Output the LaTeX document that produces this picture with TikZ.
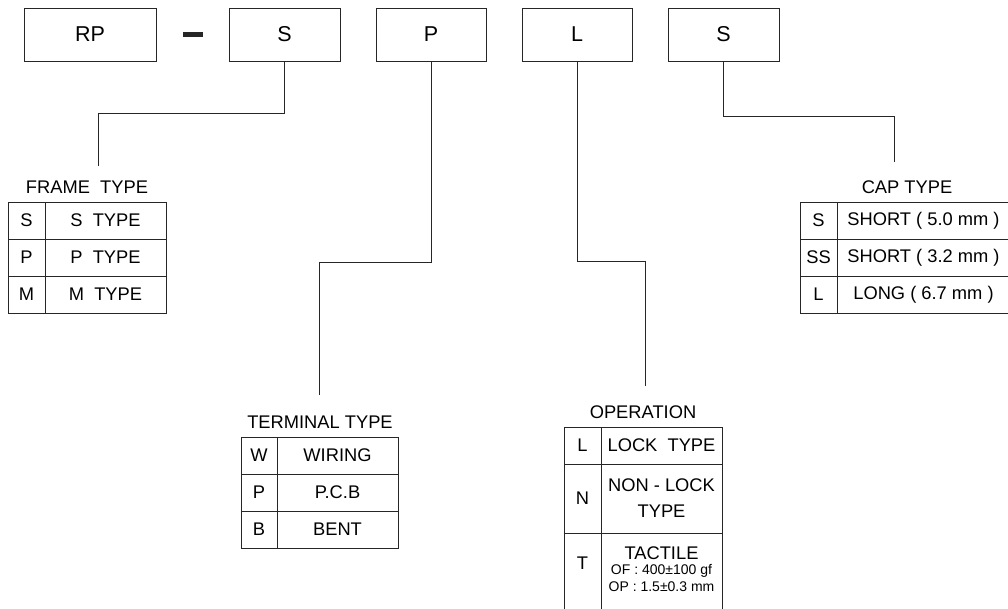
\documentclass[tikz,border=0pt]{standalone}
\usepackage{fontspec}
\setmainfont{Liberation Sans}
\usetikzlibrary{positioning}
\colorlet{pnline}{black!85}
\tikzset{
  pnbox/.style={draw=pnline,line width=0.9pt,inner sep=0pt,outer sep=0pt,
                font=\fontsize{18.3}{26}\selectfont},
  pnhead/.style={pnbox,minimum height=53,font=\fontsize{21.5}{26}\selectfont},
  pncell/.style={pnbox,minimum height=37,align=center},
  pncode/.style={pncell,minimum width=37},
  pndesc/.style={pncell,minimum width=121},
  pntitle/.style={font=\fontsize{18.3}{22}\selectfont,inner sep=0pt},
  pnlink/.style={draw=pnline,line width=0.9pt},
  pnsmall/.style={font=\fontsize{14}{17}\selectfont}
}

\begin{document}
\begin{tikzpicture}[x=1pt,y=-1pt]
  \useasboundingbox (0,0) rectangle (1008,608);
  \fill[white] (0,0) rectangle (1008,608);
  \clip (0,0) rectangle (1008,608);

  % part number boxes
  \node[pnhead,minimum width=132] (rp) at (90,34.5) {RP};
  \node[fill=pnline,minimum width=20,minimum height=5,inner sep=0pt] (dash) at (193,34.5) {};
  \node[pnhead,minimum width=111] (sbox) at (284.5,34.5) {S};
  \node[pnhead,minimum width=110] (pbox) at (431,34.5) {P};
  \node[pnhead,minimum width=110] (lbox) at (577,34.5) {L};
  \node[pnhead,minimum width=111] (cbox) at (723.5,34.5) {S};

  % frame type
  \node[pntitle] (frametitle) at (87,187) {FRAME\ \ TYPE};
  \node[pncode] (fs) at (26.5,220.5) {S};
  \node[pndesc,right=0pt of fs] (fsd) {S\ \ TYPE};
  \node[pncode,below=0pt of fs] (fp) {P};
  \node[pndesc,right=0pt of fp] (fpd) {P\ \ TYPE};
  \node[pncode,below=0pt of fp] (fm) {M};
  \node[pndesc,right=0pt of fm] (fmd) {M\ \ TYPE};

  % terminal type
  \node[pntitle] (termtitle) at (320,422) {TERMINAL TYPE};
  \node[pncode,minimum width=36] (tw) at (259,455.5) {W};
  \node[pndesc,right=0pt of tw] (twd) {WIRING};
  \node[pncode,minimum width=36,below=0pt of tw] (tp) {P};
  \node[pndesc,right=0pt of tp] (tpd) {P.C.B};
  \node[pncode,minimum width=36,below=0pt of tp] (tb) {B};
  \node[pndesc,right=0pt of tb] (tbd) {BENT};

  % operation
  \node[pntitle] (optitle) at (643,412) {OPERATION};
  \node[pncode] (ol) at (582.5,445.5) {L};
  \node[pndesc,right=0pt of ol] (old) {LOCK\ \ TYPE};
  \node[pncode,minimum height=69,below=0pt of ol] (on) {N};
  \node[pndesc,minimum height=69,right=0pt of on] (ond) {NON - LOCK\\TYPE};
  \node[pncode,minimum height=80,below=0pt of on] (ot) {};
  \node[pndesc,minimum height=80,right=0pt of ot] (otd) {};
  \node[pntitle] (otcode) at (582.5,563) {T};
  \node[pnsmall,align=center,inner sep=0pt] (otdesc) at (661.5,569)
    {{\fontsize{18.3}{18}\selectfont TACTILE}\\[-2pt]OF : 400±100 gf\\OP : 1.5±0.3 mm};

  % cap type
  \node[pntitle] (captitle) at (907,187) {CAP TYPE};
  \node[pncode] (cs) at (818.5,220.5) {S};
  \node[pncell,minimum width=173,right=0pt of cs] (csd) {SHORT ( 5.0 mm )};
  \node[pncode,below=0pt of cs] (css) {SS};
  \node[pncell,minimum width=173,right=0pt of css] (cssd) {SHORT ( 3.2 mm )};
  \node[pncode,below=0pt of css] (cl) {L};
  \node[pncell,minimum width=173,right=0pt of cl] (cld) {LONG ( 6.7 mm )};

  % connectors
  \coordinate (frameend) at (98,166);
  \coordinate (termend) at (319,395);
  \coordinate (opend) at (645,386);
  \coordinate (capend) at (894,162);
  \draw[pnlink] (sbox.south) -- ++(0,52.5) -| (frameend);
  \draw[pnlink] (pbox.south) -- ++(0,201) -| (termend);
  \draw[pnlink] (lbox.south) -- ++(0,200) -| (opend);
  \draw[pnlink] (cbox.south) -- ++(0,55) -| (capend);
\end{tikzpicture}
\end{document}
